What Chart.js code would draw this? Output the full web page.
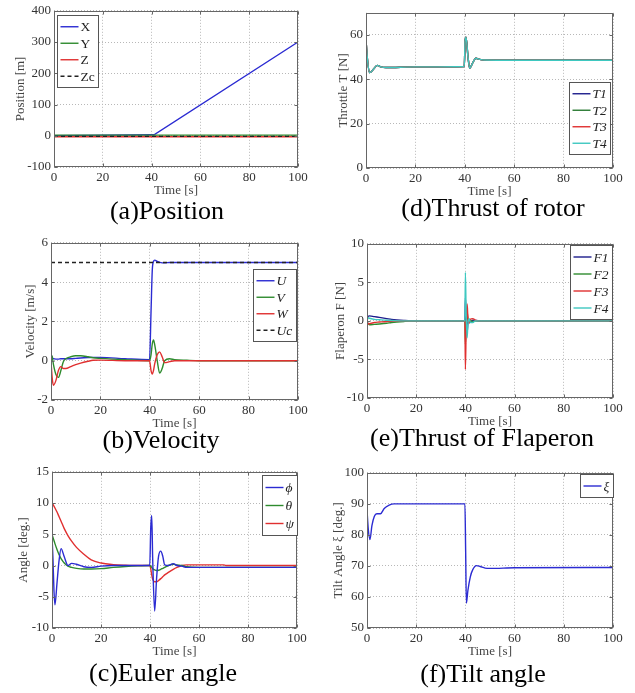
<!DOCTYPE html>
<html>
<head>
<meta charset="utf-8">
<title>Simulation results</title>
<script src="https://cdn.jsdelivr.net/npm/chart.js@4.4.0/dist/chart.umd.min.js"></script>
<style>
    html, body { margin: 0; padding: 0; background: #fff; }
    body { width: 635px; height: 693px; position: relative; overflow: hidden; font-family: "Liberation Serif", serif; }
    .panel { position: absolute; }
    .cap { position: absolute; width: 300px; text-align: center; font-size: 26px; line-height: 26px; color: #000; white-space: nowrap; }
</style>
</head>
<body>
<canvas id="posChart" class="panel"></canvas>
<canvas id="thrChart" class="panel"></canvas>
<canvas id="velChart" class="panel"></canvas>
<canvas id="flapChart" class="panel"></canvas>
<canvas id="eulChart" class="panel"></canvas>
<canvas id="tiltChart" class="panel"></canvas>

<div class="cap" style="left:17px;top:198px">(a)Position</div>
<div class="cap" style="left:343px;top:195px">(d)Thrust of rotor</div>
<div class="cap" style="left:11px;top:427px">(b)Velocity</div>
<div class="cap" style="left:332px;top:425px">(e)Thrust of Flaperon</div>
<div class="cap" style="left:13px;top:660px">(c)Euler angle</div>
<div class="cap" style="left:333px;top:661px">(f)Tilt angle</div>

<script>
// =============================================
// data
// =============================================

// (a) position
var posTime = [0, 20, 40, 41, 100];
var posX = [0, 2, 3, 3, 300];
var posY = [2, 2, 2, 2, 2];
var posZ = [-3, -3, -3, -3, -3];
var posZc = [-2, -2, -2, -2, -2];

// (d) rotor thrust (all four rotors lie on top of each other)
var thrTime = [0, 0.5, 1.5, 3, 4.5, 6, 8, 20, 39.8, 40.1, 40.5, 41.3, 42, 43, 44.5, 46, 48, 60, 100];
var thrust = [58, 50, 43, 44.5, 46.3, 45.6, 45.3, 45.6, 45.8, 57, 59, 50, 45, 47, 49.5, 49, 48.7, 48.6, 48.6];

// (b) velocity
var velTime = [0, 0.5, 1, 2, 3, 4, 5, 6, 8, 10, 12, 15, 17, 20, 30, 39.9, 40.5, 41, 41.5, 42, 43, 44, 45, 46, 48, 50, 55, 60, 100];
var velU = [0.3, 0.15, 0.1, 0.08, 0.08, 0.1, 0.1, 0.1, 0.1, 0.12, 0.14, 0.16, 0.17, 0.17, 0.1, 0.05, 2.5, 4.6, 5.05, 5.12, 5.05, 5.0, 4.98, 4.98, 5.0, 5.0, 5.0, 5.0, 5.0];
var velV = [0.3, 0.2, -0.2, -0.7, -0.85, -0.5, -0.05, 0.1, 0.2, 0.25, 0.25, 0.2, 0.15, 0.12, 0.05, 0, 0.3, 0.85, 1.05, 0.8, 0, -0.63, -0.4, 0, 0.1, 0.05, 0.02, 0, 0];
var velW = [0, -0.9, -1.25, -1.0, -0.5, -0.3, -0.4, -0.4, -0.3, -0.2, -0.12, -0.03, 0.02, 0.03, 0, 0, -0.5, -0.68, -0.5, -0.15, 0.3, 0.45, 0.2, -0.1, -0.05, 0, 0, 0, 0];
var velUcTime = [0, 100];
var velUc = [5, 5];

// (e) flaperon thrust
var flapTime = [0, 0.5, 1, 3, 5, 8, 10, 15, 20, 39.8, 40, 40.3, 40.7, 41, 41.5, 42, 43, 44, 46, 50, 100];
var flapF1 = [0.3, 0.6, 0.65, 0.55, 0.45, 0.3, 0.2, 0.07, 0, 0, 3, 0.5, -1.5, -0.3, 0.2, -0.1, 0.1, 0.05, 0, 0, 0];
var flapF2 = [0, -0.4, -0.5, -0.45, -0.4, -0.3, -0.2, -0.07, 0, 0, -3, -0.5, 1.2, 0.3, -0.2, 0.1, -0.1, 0, 0, 0, 0];
var flapF3 = [0, -0.4, -0.35, -0.2, -0.15, -0.08, -0.05, 0, 0, 0, -6.3, -1, 2.2, 0.5, -0.3, 0.2, 0.3, 0.1, 0, 0, 0];
var flapF4 = [0, 0.4, 0.35, 0.2, 0.15, 0.08, 0.05, 0, 0, 0, 6.3, 1, -2.2, -0.5, 0.3, -0.2, -0.2, 0, 0, 0, 0];

// (c) euler angles
var eulTime = [0, 0.4, 0.8, 1.2, 2, 2.8, 3.7, 5, 6.5, 8, 10, 13, 16, 20, 25, 30, 35, 39.9, 40.3, 40.7, 41.1, 41.9, 42.7, 43.5, 44.4, 45.2, 46, 47.5, 49.5, 51, 53, 55, 60, 70, 71, 100];
var eulPhi = [4.8, 1, -4, -6.3, -3, 0.5, 2.7, 1.4, 0, 0.35, 0.2, -0.2, -0.3, -0.1, 0, 0, 0, 0, 6, 8, 1, -7.3, -2, 1.5, 2.3, 1.5, 0.1, 0, 0.3, 0, -0.1, -0.3, -0.3, -0.3, -0.3, -0.3];
var eulTheta = [5, 4.5, 4, 3.5, 2.6, 1.8, 1.1, 0.4, -0.1, -0.3, -0.45, -0.55, -0.55, -0.5, -0.3, -0.15, -0.05, 0, -0.1, -0.3, -0.5, -0.7, -0.8, -0.75, -0.6, -0.45, -0.3, 0, 0.2, 0.1, 0, -0.2, -0.3, -0.3, -0.3, -0.3];
var eulPsi = [10, 9.8, 9.5, 9.2, 8.6, 7.9, 7.1, 5.9, 4.8, 3.9, 2.9, 1.8, 0.9, 0.4, 0.15, 0.05, 0, 0, -0.5, -1.5, -2.2, -2.6, -2.6, -2.4, -2.1, -1.8, -1.5, -1.1, -0.6, -0.3, 0, 0.1, 0.1, 0.1, 0, 0];

// (f) tilt angle
var tiltTime = [0, 0.5, 1.2, 2, 3, 4, 5.5, 7, 9, 11, 20, 39.8, 40.1, 40.4, 41, 42, 43, 44.5, 46, 48, 50, 60, 100];
var tiltXi = [88, 82, 78.5, 83, 86, 86.8, 86.8, 88.5, 89.6, 90, 90, 90, 75, 58, 62, 66.5, 68.8, 70.1, 69.8, 69.3, 69.2, 69.4, 69.5];

var timeTicks = { min: 0, max: 100, step: 20 };

// =============================================
// look
// =============================================

var BLUE = "#2b2bd2";
var NAVY = "#1c1c8c";
var GREEN = "#2e8b2e";
var DKGREEN = "#2a7a32";
var RED = "#e03030";
var CYAN = "#3ec8c0";
var BLACK = "#222";

var TICK_FONT = { family: '"Liberation Serif", serif', size: 13 };
var TITLE_FONT = { family: '"Liberation Serif", serif', size: 13 };
var TICK_COLOR = "#333";
var TITLE_COLOR = "#444";
var GRID_COLOR = "#b8b8b8";
var FRAME_COLOR = "#666";

var PAD_TOP = 10;
var PAD_RIGHT = 14;
var X_AXIS_H = 31;

Chart.defaults.font.family = '"Liberation Serif", serif';

// box round the plot area plus the small inward ticks matlab draws
var framePlugin = {
    id: "frame",
    afterDatasetsDraw: function(chart) {
        var a = chart.chartArea;
        var ctx = chart.ctx;
        var l = Math.round(a.left) + 0.5;
        var r = Math.round(a.right) - 0.5;
        var t = Math.round(a.top) + 0.5;
        var b = Math.round(a.bottom) - 0.5;
        ctx.save();
        ctx.strokeStyle = FRAME_COLOR;
        ctx.lineWidth = 1;
        ctx.strokeRect(l, t, r - l, b - t);
        ctx.beginPath();
        chart.scales.x.ticks.forEach(function(tk) {
            var px = Math.round(chart.scales.x.getPixelForValue(tk.value)) + 0.5;
            ctx.moveTo(px, b); ctx.lineTo(px, b - 3);
            ctx.moveTo(px, t); ctx.lineTo(px, t + 3);
        });
        chart.scales.y.ticks.forEach(function(tk) {
            var py = Math.round(chart.scales.y.getPixelForValue(tk.value)) + 0.5;
            ctx.moveTo(l, py); ctx.lineTo(l + 3, py);
            ctx.moveTo(r, py); ctx.lineTo(r - 3, py);
        });
        ctx.stroke();
        ctx.restore();
    }
};

// legend drawn inside the axes, the matlab way
var boxLegendPlugin = {
    id: "boxLegend",
    afterDraw: function(chart, args, opts) {
        if (!opts || !opts.rowH) return;
        var ctx = chart.ctx;
        var a = chart.chartArea;
        var sets = chart.data.datasets;
        ctx.save();
        ctx.font = (opts.italic ? "italic " : "") + '13.5px "Liberation Serif", serif';
        var textW = 0;
        for (var i = 0; i < sets.length; i++) {
            textW = Math.max(textW, ctx.measureText(sets[i].label).width);
        }
        var w = Math.round(3 + opts.lineLen + 2 + textW + 4);
        var h = opts.rowH * sets.length + 6;
        var x = opts.side === "left" ? a.left + opts.dx : a.right - opts.dx - w;
        var y = opts.fromBottom ? a.bottom - opts.dy - h : a.top + opts.dy;
        x = Math.round(x) + 0.5;
        y = Math.round(y) + 0.5;

        ctx.fillStyle = "#fff";
        ctx.fillRect(x, y, w, h);
        ctx.strokeStyle = "#555";
        ctx.lineWidth = 1;
        ctx.strokeRect(x, y, w, h);

        ctx.textBaseline = "middle";
        ctx.textAlign = "left";
        for (var j = 0; j < sets.length; j++) {
            var ds = sets[j];
            var cy = y + 3 + opts.rowH * (j + 0.5);
            ctx.beginPath();
            ctx.strokeStyle = ds.borderColor;
            ctx.lineWidth = 1.4;
            ctx.setLineDash(ds.borderDash || []);
            ctx.moveTo(x + 3, cy);
            ctx.lineTo(x + 3 + opts.lineLen, cy);
            ctx.stroke();
            ctx.setLineDash([]);
            ctx.fillStyle = "#222";
            ctx.fillText(ds.label, x + 3 + opts.lineLen + 2, cy + 1);
        }
        ctx.restore();
    }
};

Chart.register(framePlugin, boxLegendPlugin);

// =============================================
// helpers
// =============================================

function series(label, time, values, color, extra) {
    var ds = {
        label: label,
        data: time.map(function(t, i) {
            return { x: t, y: values[i] };
        }),
        borderColor: color,
        backgroundColor: color,
        fill: false
    };
    if (extra) {
        for (var k in extra) ds[k] = extra[k];
    }
    return ds;
}

function placeCanvas(id, area, axW) {
    var c = document.getElementById(id);
    c.width = axW + (area.r - area.l) + PAD_RIGHT;
    c.height = PAD_TOP + (area.b - area.t) + X_AXIS_H;
    c.style.left = (area.l - axW) + "px";
    c.style.top = (area.t - PAD_TOP) + "px";
    return c;
}

function buildOptions(o) {
    return {
        responsive: false,
        animation: false,
        layout: { padding: { top: PAD_TOP, right: PAD_RIGHT, left: 0, bottom: 0 } },
        elements: {
            point: { radius: 0 },
            line: { borderWidth: 1.4, cubicInterpolationMode: "monotone" }
        },
        plugins: {
            legend: { display: false },
            tooltip: { enabled: false },
            boxLegend: o.legend
        },
        scales: {
            x: {
                type: "linear",
                min: timeTicks.min,
                max: timeTicks.max,
                afterFit: function(s) { s.height = X_AXIS_H; },
                ticks: { stepSize: timeTicks.step, padding: 3, color: TICK_COLOR, font: TICK_FONT, maxRotation: 0 },
                grid: { color: GRID_COLOR, drawTicks: false },
                border: { display: false, dash: [1, 2] },
                title: { display: true, text: "Time [s]", color: TITLE_COLOR, font: TITLE_FONT, padding: 0 }
            },
            y: {
                type: "linear",
                min: o.yMin,
                max: o.yMax,
                afterFit: function(s) { s.width = o.axW; },
                ticks: {
                    stepSize: o.yStep,
                    includeBounds: o.includeBounds !== false,
                    padding: 3,
                    color: TICK_COLOR,
                    font: TICK_FONT
                },
                grid: { color: GRID_COLOR, drawTicks: false },
                border: { display: false, dash: [1, 2] },
                title: { display: true, text: o.yTitle, color: TITLE_COLOR, font: TITLE_FONT, padding: 0 }
            }
        }
    };
}

function makePanel(id, area, o, datasets) {
    var ctx = placeCanvas(id, area, o.axW);
    return new Chart(ctx, {
        type: "line",
        data: { datasets: datasets },
        options: buildOptions(o)
    });
}

// =============================================
// panels
// =============================================

var dash = [4, 3];
var straight = { cubicInterpolationMode: "default", tension: 0 };

makePanel("posChart", { l: 54, t: 10, r: 298, b: 167 }, {
    axW: 41, yMin: -100, yMax: 400, yStep: 100, yTitle: "Position [m]",
    legend: { rowH: 16.5, lineLen: 18, side: "left", dx: 3, dy: 4, italic: false }
}, [
    series("X", posTime, posX, BLUE, Object.assign({ order: 3 }, straight)),
    series("Y", posTime, posY, GREEN, { order: 2 }),
    series("Z", posTime, posZ, RED, { order: 1 }),
    series("Zc", posTime, posZc, BLACK, { order: 0, borderDash: dash })
]);

makePanel("thrChart", { l: 366, t: 12, r: 613, b: 168 }, {
    axW: 30, yMin: 0, yMax: 70, yStep: 20, includeBounds: false, yTitle: "Throttle T [N]",
    legend: { rowH: 16.5, lineLen: 18, side: "right", dx: 3, dy: 14, fromBottom: true, italic: true }
}, [
    series("T1", thrTime, thrust, NAVY, { order: 3 }),
    series("T2", thrTime, thrust, DKGREEN, { order: 2 }),
    series("T3", thrTime, thrust, RED, { order: 1 }),
    series("T4", thrTime, thrust, CYAN, { order: 0 })
]);

makePanel("velChart", { l: 51, t: 242, r: 298, b: 400 }, {
    axW: 28, yMin: -2, yMax: 6, yStep: 2, yTitle: "Velocity [m/s]",
    legend: { rowH: 16.5, lineLen: 18, side: "right", dx: 2, dy: 26, italic: true }
}, [
    series("U", velTime, velU, BLUE, { order: 3 }),
    series("V", velTime, velV, GREEN, { order: 2 }),
    series("W", velTime, velW, RED, { order: 1 }),
    series("Uc", velUcTime, velUc, BLACK, { order: 0, borderDash: dash })
]);

makePanel("flapChart", { l: 367, t: 243, r: 613, b: 398 }, {
    axW: 34, yMin: -10, yMax: 10, yStep: 5, yTitle: "Flaperon F [N]",
    legend: { rowH: 17, lineLen: 18, side: "right", dx: 1, dy: 1, italic: true }
}, [
    series("F1", flapTime, flapF1, NAVY, { order: 3 }),
    series("F2", flapTime, flapF2, GREEN, { order: 2 }),
    series("F3", flapTime, flapF3, RED, { order: 1 }),
    series("F4", flapTime, flapF4, CYAN, { order: 0 })
]);

makePanel("eulChart", { l: 52, t: 471, r: 297, b: 628 }, {
    axW: 36, yMin: -10, yMax: 15, yStep: 5, yTitle: "Angle [deg.]",
    legend: { rowH: 18, lineLen: 18, side: "right", dx: 0, dy: 3, italic: true }
}, [
    series("ϕ", eulTime, eulPhi, BLUE, { order: 0 }),
    series("θ", eulTime, eulTheta, GREEN, { order: 1 }),
    series("ψ", eulTime, eulPsi, RED, { order: 2 })
]);

makePanel("tiltChart", { l: 367, t: 472, r: 613, b: 628 }, {
    axW: 36, yMin: 50, yMax: 100, yStep: 10, yTitle: "Tilt Angle ξ [deg.]",
    legend: { rowH: 17, lineLen: 18, side: "right", dx: 0, dy: 1, italic: true }
}, [
    series("ξ", tiltTime, tiltXi, BLUE)
]);
</script>
</body>
</html>
